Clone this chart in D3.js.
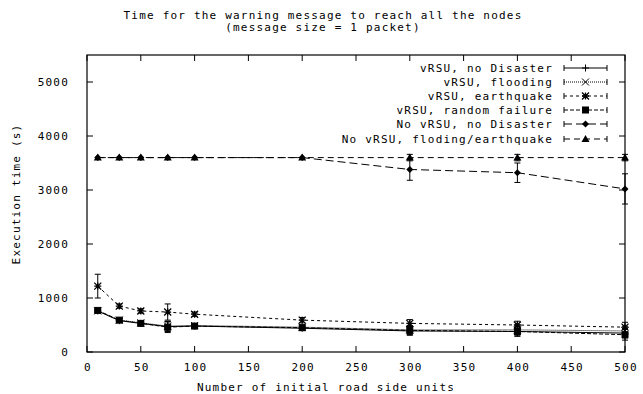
<!DOCTYPE html>
<html lang="en">
<head>
<meta charset="UTF-8">
<script src="https://cdn.jsdelivr.net/npm/d3@7"></script>
<title>Warning message time</title>
<style>
  body { margin: 0; background: #fff; }
  text { font-family: "DejaVu Sans Mono", monospace; font-size: 11px; letter-spacing: 1.2px; fill: #000; }
</style>
</head>
<body>
<script>
// number of initial road side units
var units = [10, 30, 50, 75, 100, 200, 300, 400, 500];

// execution times (s) per series
var noDisaster   = [760, 580, 530, 470, 480, 440, 390, 380, 350];
var flooding     = [760, 590, 540, 480, 490, 460, 410, 410, 390];
var earthquake   = [1220, 850, 760, 740, 700, 590, 530, 500, 460];
var randFailure  = [770, 590, 530, 460, 480, 450, 400, 380, 320];
var noRsuNone    = [3600, 3600, 3600, 3600, 3600, 3600, 3380, 3320, 3020];
var noRsuFlood   = [3600, 3600, 3600, 3600, 3600, 3600, 3600, 3600, 3600];

// error half-widths
var errNoDisaster  = [30, 30, 30, 90, 30, 40, 80, 80, 90];
var errFlooding    = [30, 30, 30, 90, 30, 40, 80, 90, 90];
var errEarthquake  = [220, 40, 40, 150, 40, 50, 70, 70, 90];
var errRandFailure = [30, 30, 30, 100, 30, 40, 80, 90, 100];
var errNoRsuNone   = [0, 0, 0, 0, 0, 0, 200, 180, 280];
var errNoRsuFlood  = [0, 0, 0, 0, 0, 0, 60, 60, 60];

var seriesNames = ["vRSU, no Disaster", "vRSU, flooding", "vRSU, earthquake",
                   "vRSU, random failure", "No vRSU, no Disaster", "No vRSU, floding/earthquake"];

var xTicks = [0, 50, 100, 150, 200, 250, 300, 350, 400, 450, 500];
var yTicks = [0, 1000, 2000, 3000, 4000, 5000];

var w = 643, h = 394;
var padL = 87, padR = 625, padT = 55, padB = 352;

var series = [
  {name: seriesNames[0], vals: noDisaster, err: errNoDisaster, dash: null, mark: "plus"},
  {name: seriesNames[1], vals: flooding, err: errFlooding, dash: "1,1", mark: "cross"},
  {name: seriesNames[2], vals: earthquake, err: errEarthquake, dash: "3,3", mark: "star"},
  {name: seriesNames[3], vals: randFailure, err: errRandFailure, dash: "4,2", mark: "square"},
  {name: seriesNames[4], vals: noRsuNone, err: errNoRsuNone, dash: "8,4", mark: "diamond"},
  {name: seriesNames[5], vals: noRsuFlood, err: errNoRsuFlood, dash: "6,4", mark: "triangle"}
];

var xScale = d3.scaleLinear().domain([0, 500]).range([padL, padR]);
var yScale = d3.scaleLinear().domain([0, 5500]).range([padB, padT]);

var svg = d3.select("body").append("svg")
  .attr("width", w)
  .attr("height", h);

// title
svg.append("text").attr("x", 323).attr("y", 19).attr("text-anchor", "middle")
  .text("Time for the warning message to reach all the nodes");
svg.append("text").attr("x", 323).attr("y", 31).attr("text-anchor", "middle")
  .text("(message size = 1 packet)");

// ticks, mirrored on all sides (inside)
xTicks.forEach(function (t) {
  var x = xScale(t);
  svg.append("line").attr("x1", x).attr("x2", x).attr("y1", padB).attr("y2", padB - 6).attr("stroke", "#000");
  svg.append("line").attr("x1", x).attr("x2", x).attr("y1", padT).attr("y2", padT + 6).attr("stroke", "#000");
  svg.append("text").attr("x", x + 1).attr("y", 371).attr("text-anchor", "middle").text(t);
});
yTicks.forEach(function (t) {
  var y = yScale(t);
  svg.append("line").attr("x1", padL).attr("x2", padL + 6).attr("y1", y).attr("y2", y).attr("stroke", "#000");
  svg.append("line").attr("x1", padR).attr("x2", padR - 6).attr("y1", y).attr("y2", y).attr("stroke", "#000");
  svg.append("text").attr("x", 69).attr("y", y + 4).attr("text-anchor", "end").text(t);
});

svg.append("rect")
  .attr("x", padL).attr("y", padT)
  .attr("width", padR - padL).attr("height", padB - padT)
  .attr("fill", "none").attr("stroke", "#000").attr("stroke-width", 1.2);

// axis labels
svg.append("text").attr("x", 326).attr("y", 391).attr("text-anchor", "middle")
  .text("Number of initial road side units");
svg.append("text").attr("transform", "translate(20,194) rotate(-90)").attr("text-anchor", "middle")
  .text("Execution time (s)");

function drawMark(g, kind, x, y) {
  var s = 3.5;
  if (kind === "plus") {
    g.append("path").attr("d", "M" + (x - s) + "," + y + "H" + (x + s) + "M" + x + "," + (y - s) + "V" + (y + s))
      .attr("stroke", "#000").attr("fill", "none");
  } else if (kind === "cross") {
    g.append("path").attr("d", "M" + (x - s) + "," + (y - s) + "L" + (x + s) + "," + (y + s) + "M" + (x - s) + "," + (y + s) + "L" + (x + s) + "," + (y - s))
      .attr("stroke", "#000").attr("fill", "none");
  } else if (kind === "star") {
    g.append("path").attr("d", "M" + (x - s) + "," + y + "H" + (x + s) + "M" + x + "," + (y - s) + "V" + (y + s) +
      "M" + (x - s) + "," + (y - s) + "L" + (x + s) + "," + (y + s) + "M" + (x - s) + "," + (y + s) + "L" + (x + s) + "," + (y - s))
      .attr("stroke", "#000").attr("stroke-width", 1.3).attr("fill", "none");
  } else if (kind === "square") {
    g.append("rect").attr("x", x - 3).attr("y", y - 3).attr("width", 6).attr("height", 6)
      .attr("fill", "#000").attr("stroke", "#000");
  } else if (kind === "diamond") {
    g.append("path").attr("d", "M" + x + "," + (y - 3.5) + "L" + (x + 3.5) + "," + y + "L" + x + "," + (y + 3.5) + "L" + (x - 3.5) + "," + y + "Z")
      .attr("fill", "#000");
  } else if (kind === "triangle") {
    g.append("path").attr("d", "M" + x + "," + (y - 4) + "L" + (x + 4) + "," + (y + 3) + "L" + (x - 4) + "," + (y + 3) + "Z")
      .attr("fill", "#000");
  }
}

var line = d3.line()
  .x(function (d) { return xScale(d.x); })
  .y(function (d) { return yScale(d.y); });

series.forEach(function (s) {
  var g = svg.append("g");
  var pts = units.map(function (u, i) { return {x: u, y: s.vals[i], e: s.err[i]}; });
  g.append("path")
    .attr("d", line(pts))
    .attr("fill", "none")
    .attr("stroke", "#000")
    .attr("stroke-width", 1)
    .attr("stroke-dasharray", s.dash);
  pts.forEach(function (p) {
    var x = xScale(p.x);
    if (p.e > 0) {
      var y1 = yScale(p.y - p.e), y2 = yScale(p.y + p.e);
      g.append("path")
        .attr("d", "M" + x + "," + y1 + "V" + y2 + "M" + (x - 3) + "," + y1 + "H" + (x + 3) + "M" + (x - 3) + "," + y2 + "H" + (x + 3))
        .attr("stroke", "#000").attr("fill", "none");
    }
    drawMark(g, s.mark, x, yScale(p.y));
  });
});

// legend
var legendY = [68, 82, 96, 110, 124, 139];
series.forEach(function (s, i) {
  var y = legendY[i];
  svg.append("text").attr("x", 553).attr("y", y + 4).attr("text-anchor", "end").text(s.name);
  svg.append("path")
    .attr("d", "M564," + y + "H607")
    .attr("stroke", "#000").attr("fill", "none").attr("stroke-dasharray", s.dash);
  svg.append("path")
    .attr("d", "M564," + (y - 3) + "V" + (y + 3) + "M607," + (y - 3) + "V" + (y + 3))
    .attr("stroke", "#000").attr("fill", "none");
  drawMark(svg, s.mark, 585.5, y);
});
</script>
</body>
</html>
